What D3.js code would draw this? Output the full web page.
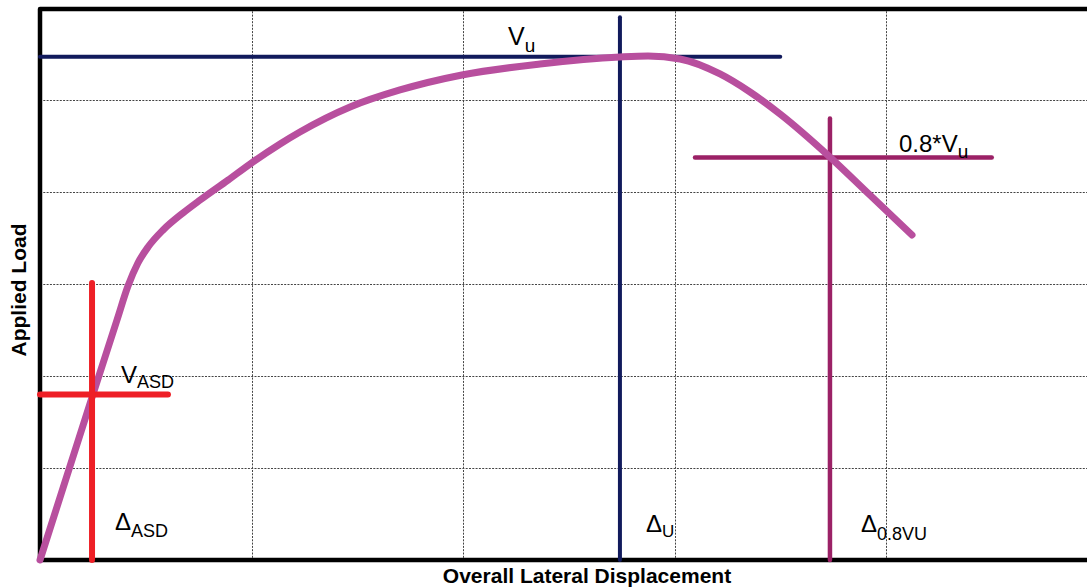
<!DOCTYPE html>
<html>
<head>
<meta charset="utf-8">
<script src="https://cdn.jsdelivr.net/npm/d3@7"></script>
<style>
  html, body { margin: 0; padding: 0; background: #fff; }
  svg { display: block; font-family: "Liberation Sans", Arial, sans-serif; }
</style>
</head>
<body>
<svg id="chart" width="1087" height="587"></svg>
<script>
// Load–displacement curve (displacement units, load units)
const curveX = [0, 0.251, 0.364, 0.416, 0.463, 0.511, 0.582, 0.676, 0.757, 0.889, 0.993, 1.135, 1.229, 1.466, 1.702, 1.995, 2.364, 2.742, 2.875, 3.026, 3.215, 3.357, 3.499, 3.735, 3.924, 4.123];
const curveY = [0, 1.804, 2.609, 2.978, 3.228, 3.402, 3.587, 3.772, 3.913, 4.130, 4.304, 4.522, 4.652, 4.924, 5.109, 5.272, 5.391, 5.467, 5.478, 5.446, 5.283, 5.087, 4.848, 4.380, 3.967, 3.533];

// Key response levels
const vu = 5.47;            // ultimate load
const vasd = 1.80;          // allowable stress design load
const deltaAsd = 0.246;     // displacement at V_ASD
const deltaU = 2.742;       // displacement at V_u
const delta08 = 3.735;      // displacement at 0.8*V_u

// Grid divisions
const xGrid = [1, 2, 3, 4];
const yGrid = [1, 2, 3, 4, 5];

const svg = d3.select("#chart");
const plotLeft = 40, plotTop = 8, plotBottom = 560;
const x = d3.scaleLinear().domain([0, 5]).range([plotLeft, 1097.5]);
const y = d3.scaleLinear().domain([0, 6]).range([plotBottom, plotTop]);

// dotted grid
const grid = svg.append("g").attr("stroke", "#444").attr("stroke-width", 1).attr("stroke-dasharray", "2,1.3");
grid.selectAll("line.v").data(xGrid).join("line")
  .attr("x1", d => Math.round(x(d)) + 0.5).attr("x2", d => Math.round(x(d)) + 0.5)
  .attr("y1", y(6)).attr("y2", y(0));
grid.selectAll("line.h").data(yGrid).join("line")
  .attr("y1", d => Math.round(y(d)) + 0.5).attr("y2", d => Math.round(y(d)) + 0.5)
  .attr("x1", x(0)).attr("x2", 1087);

// frame: top, left and bottom edges
svg.append("path")
  .attr("d", `M1087,${y(6) + 1} L${x(0)},${y(6) + 1} L${x(0)},${y(0)} L1087,${y(0)}`)
  .attr("fill", "none").attr("stroke", "#000").attr("stroke-width", 4.5)
  .attr("stroke-linejoin", "round");

function seg(x1, y1, x2, y2, color, w) {
  svg.append("line")
    .attr("x1", x(x1)).attr("y1", y(y1)).attr("x2", x(x2)).attr("y2", y(y2))
    .attr("stroke", color).attr("stroke-width", w).attr("stroke-linecap", "round");
}

// V_u and Δ_U markers
seg(0, vu, 3.50, vu, "#111a5c", 4);
seg(deltaU, 0, deltaU, 5.90, "#111a5c", 4);

// 0.8 V_u and Δ_0.8VU markers
seg(3.097, 0.8 * vu, 4.50, 0.8 * vu, "#9b2166", 4.5);
seg(delta08, 0, delta08, 4.80, "#9b2166", 4.5);

// response curve
const pts = curveX.map((d, i) => [d, curveY[i]]);
svg.append("path")
  .datum(pts)
  .attr("d", d3.line().x(d => x(d[0])).y(d => y(d[1])).curve(d3.curveMonotoneX))
  .attr("fill", "none").attr("stroke", "#b84f9e").attr("stroke-width", 7)
  .attr("stroke-linecap", "round").attr("stroke-linejoin", "round");

// V_ASD and Δ_ASD markers
seg(0, vasd, 0.605, vasd, "#ee1f26", 6);
seg(deltaAsd, 0, deltaAsd, 3.01, "#ee1f26", 6);

// labels with subscripts
function label(px, py, main, sub, mainSize, subSize, subDy) {
  const t = svg.append("text").attr("x", px).attr("y", py).attr("fill", "#000");
  t.append("tspan").attr("font-size", mainSize).text(main);
  t.append("tspan").attr("font-size", subSize).attr("dy", subDy).text(sub);
}
label(508, 45, "V", "u", 25, 19, 7);
label(121, 383, "V", "ASD", 24, 18, 5);
label(899, 152, "0.8*V", "u", 24, 19, 6);
label(115, 530, "Δ", "ASD", 24, 18, 7);
label(646, 532, "Δ", "U", 24, 17, 5);
label(861, 532, "Δ", "0.8VU", 24, 18, 8);

// axis titles
svg.append("text")
  .attr("x", 587).attr("y", 583).attr("text-anchor", "middle")
  .attr("font-size", 21).attr("font-weight", "bold").text("Overall Lateral Displacement");
svg.append("text")
  .attr("transform", "translate(26,290) rotate(-90)").attr("text-anchor", "middle")
  .attr("font-size", 21).attr("font-weight", "bold").text("Applied Load");
</script>
</body>
</html>
